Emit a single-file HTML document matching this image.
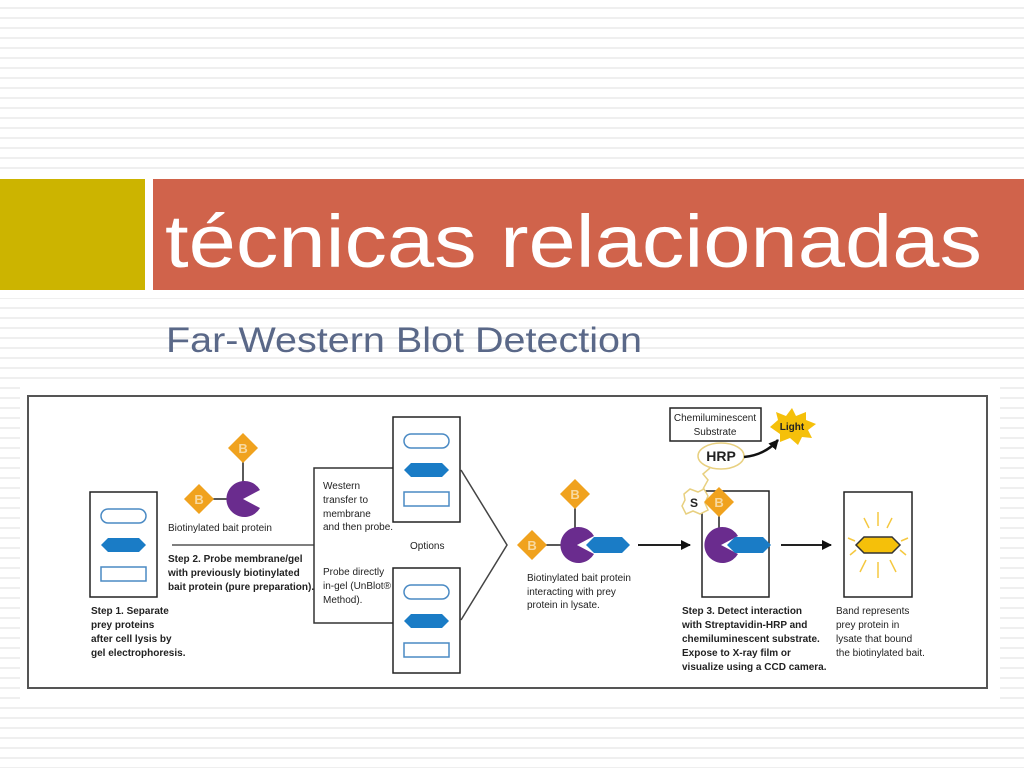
<!DOCTYPE html>
<html><head><meta charset="utf-8"><style>
html,body{margin:0;padding:0}
body{width:1024px;height:768px;overflow:hidden;position:relative;font-family:"Liberation Sans",sans-serif;
background:repeating-linear-gradient(to bottom,#fff 0,#fff 7px,#efefef 7px,#efefef 9px,#fff 9px,#fff 10px);}
.yb{position:absolute;left:0;top:179px;width:145px;height:111px;background:#ccb400}
.rb{position:absolute;left:153px;top:179px;width:871px;height:111px;background:#d0634b}
.gap{position:absolute;left:0;top:172px;width:1024px;height:126px;background:#fff}
</style></head><body>
<div class="gap"></div>
<div class="yb"></div><div class="rb"></div>
<svg width="1024" height="768" style="position:absolute;left:0;top:0" font-family="Liberation Sans, sans-serif">
<text x="165" y="267" font-size="74" fill="#fff" textLength="817" lengthAdjust="spacingAndGlyphs">técnicas relacionadas</text>
<text x="166" y="352" font-size="35" fill="#5a6888" textLength="476" lengthAdjust="spacingAndGlyphs">Far-Western Blot Detection</text>
<rect x="20" y="386" width="980" height="318" fill="#fff"/>
<rect x="28" y="396" width="959" height="292" fill="#fff" stroke="#555" stroke-width="2"/>
<defs>
<g id="gel">
<rect x="0" y="0" width="67" height="105" fill="#fff" stroke="#222" stroke-width="1.5"/>
<rect x="11" y="17" width="45" height="14" rx="7" fill="#fff" stroke="#4a8ac4" stroke-width="1.5"/>
<polygon points="11,53 18,46 49,46 56,53 49,60 18,60" fill="#1a7cc6"/>
<rect x="11" y="75" width="45" height="14" fill="#fff" stroke="#4a8ac4" stroke-width="1.5"/>
</g>
<g id="bd"><polygon points="0,-15 15,0 0,15 -15,0" fill="#f0a21e"/><text x="0" y="5" font-size="13" font-weight="bold" fill="#f8d9a0" text-anchor="middle">B</text></g>
<g id="pac"><path d="M0,0 L17,-9 A18,18 0 1 0 17,9 Z" fill="#6a2c8e"/></g>
<g id="bhex"><polygon points="0,0 8,-8 36,-8 44,0 36,8 8,8" fill="#1a7cc6"/></g>
<marker id="ah" markerWidth="10" markerHeight="10" refX="9" refY="5" orient="auto" markerUnits="userSpaceOnUse"><polygon points="0,0 10,5 0,10" fill="#111"/></marker>
</defs>
<g font-size="10" fill="#222" font-weight="bold">
<use href="#gel" x="90" y="492"/>
<text x="91" y="614">Step 1. Separate</text><text x="91" y="628">prey proteins</text><text x="91" y="642">after cell lysis by</text><text x="91" y="656">gel electrophoresis.</text>
<line x1="243" y1="455" x2="243" y2="490" stroke="#222" stroke-width="1.5"/>
<line x1="205" y1="499" x2="230" y2="499" stroke="#222" stroke-width="1.5"/>
<use href="#pac" x="243" y="499"/>
<use href="#bd" x="243" y="448"/><use href="#bd" x="199" y="499"/>
<text x="168" y="531" font-weight="normal">Biotinylated bait protein</text>
<line x1="172" y1="545" x2="314" y2="545" stroke="#555" stroke-width="1.5"/>
<text x="168" y="562">Step 2. Probe membrane/gel</text><text x="168" y="576">with previously biotinylated</text><text x="168" y="590">bait protein (pure preparation).</text>
<polyline points="393,468 314,468 314,623 393,623" fill="none" stroke="#333" stroke-width="1.5"/>
<use href="#gel" x="393" y="417"/><use href="#gel" x="393" y="568"/>
<g font-weight="normal"><text x="323" y="489">Western</text><text x="323" y="503">transfer to</text><text x="323" y="517">membrane</text><text x="323" y="530">and then probe.</text>
<text x="410" y="549">Options</text>
<text x="323" y="575">Probe directly</text><text x="323" y="589">in-gel (UnBlot®</text><text x="323" y="603">Method).</text></g>
<polyline points="461,470 507,545 461,620" fill="none" stroke="#444" stroke-width="1.5"/>
<line x1="532" y1="545" x2="565" y2="545" stroke="#222" stroke-width="1.5"/>
<line x1="575" y1="500" x2="575" y2="535" stroke="#222" stroke-width="1.5"/>
<use href="#pac" x="577" y="545"/>
<use href="#bhex" x="586" y="545"/>
<use href="#bd" x="532" y="545"/><use href="#bd" x="575" y="494"/>
<g font-weight="normal"><text x="527" y="581">Biotinylated bait protein</text><text x="527" y="595">interacting with prey</text><text x="527" y="608">protein in lysate.</text></g>
<line x1="638" y1="545" x2="690" y2="545" stroke="#222" stroke-width="2" marker-end="url(#ah)"/>
<rect x="702" y="491" width="67" height="106" fill="#fff" stroke="#222" stroke-width="1.5"/>
<line x1="719" y1="510" x2="719" y2="535" stroke="#222" stroke-width="1.5"/>
<use href="#pac" x="721" y="545"/>
<use href="#bhex" x="727" y="545"/>
<polygon points="684,494 690,489 698,492 704,489 708,496 705,503 708,510 700,514 693,511 686,514 682,506 685,500" fill="#fff" stroke="#e8d080" stroke-width="1.5"/>
<text x="690" y="507" font-size="12">S</text>
<use href="#bd" x="719" y="502"/>
<polyline points="703,489 708,480 703,474 710,468" fill="none" stroke="#e8d080" stroke-width="1.5"/>
<rect x="670" y="408" width="91" height="33" fill="#fff" stroke="#222" stroke-width="1.5"/>
<g font-weight="normal" text-anchor="middle"><text x="715" y="421">Chemiluminescent</text><text x="715" y="435">Substrate</text></g>
<ellipse cx="721" cy="456" rx="23" ry="13" fill="#fff" stroke="#e8d080" stroke-width="1.5"/>
<text x="721" y="461" font-size="14" text-anchor="middle">HRP</text>
<path d="M744,457 Q765,455 778,440" fill="none" stroke="#111" stroke-width="2.5" marker-end="url(#ah)"/>
<polygon points="770,427 778,420 776,412 786,416 792,408 796,416 806,412 806,420 816,424 808,430 812,438 802,437 798,445 790,438 780,442 780,434" fill="#f5c00a"/>
<text x="792" y="430" text-anchor="middle">Light</text>
<g font-weight="bold"><text x="682" y="614">Step 3. Detect interaction</text><text x="682" y="628">with Streptavidin-HRP and</text><text x="682" y="642">chemiluminescent substrate.</text><text x="682" y="656">Expose to X-ray film or</text><text x="682" y="670">visualize using a CCD camera.</text></g>
<line x1="781" y1="545" x2="831" y2="545" stroke="#222" stroke-width="2" marker-end="url(#ah)"/>
<rect x="844" y="492" width="68" height="105" fill="#fff" stroke="#222" stroke-width="1.5"/>
<polygon points="856,545 864,537 892,537 900,545 892,553 864,553" fill="#f5c00a" stroke="#333" stroke-width="1.5"/>
<g stroke="#f5c840" stroke-width="1.5"><line x1="878" y1="512" x2="878" y2="526"/><line x1="878" y1="562" x2="878" y2="578"/><line x1="864" y1="518" x2="869" y2="528"/><line x1="892" y1="518" x2="887" y2="528"/><line x1="860" y1="572" x2="866" y2="560"/><line x1="896" y1="572" x2="890" y2="560"/><line x1="848" y1="538" x2="855" y2="541"/><line x1="908" y1="538" x2="901" y2="541"/><line x1="850" y1="555" x2="856" y2="550"/><line x1="906" y1="555" x2="900" y2="550"/></g>
<g font-weight="normal"><text x="836" y="614">Band represents</text><text x="836" y="628">prey protein in</text><text x="836" y="642">lysate that bound</text><text x="836" y="656">the biotinylated bait.</text></g>
</g>
</svg>
</body></html>
